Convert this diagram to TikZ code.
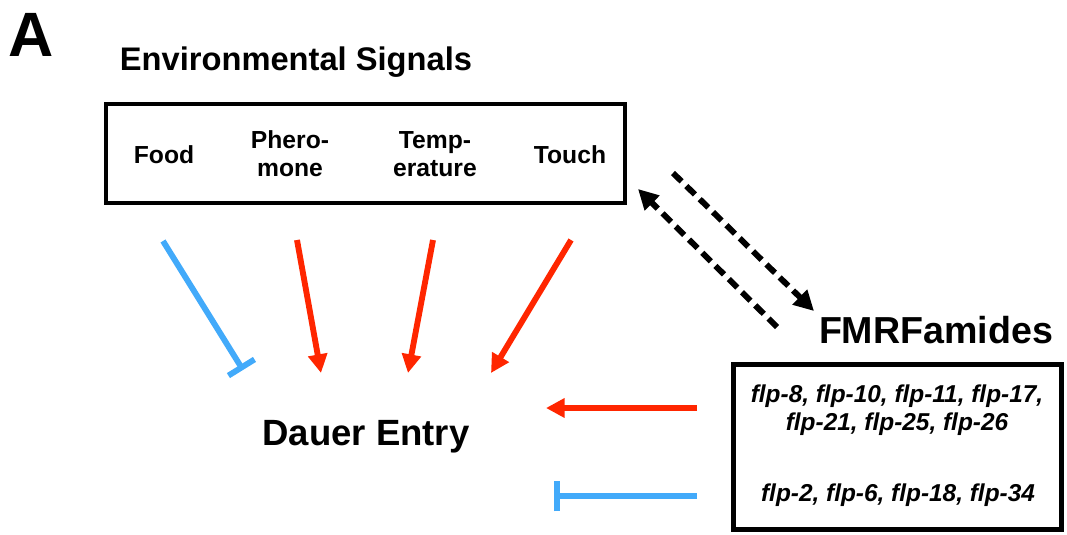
\documentclass[tikz,border=0pt]{standalone}
\usepackage{fontspec}
\setmainfont{Liberation Sans}
\usetikzlibrary{arrows.meta}
\definecolor{actred}{RGB}{255,38,0}
\definecolor{inhblue}{RGB}{66,170,250}
\begin{document}
\begin{tikzpicture}[x=0.75pt,y=-0.75pt,
  txt/.style={inner sep=0pt, font=\bfseries\fontsize{18.5}{21}\selectfont, align=center},
  flp/.style={inner sep=0pt, font=\bfseries\itshape\fontsize{18.3}{21}\selectfont, align=center},
  frame/.style={draw, line width=3.4pt, inner sep=0pt},
  act/.style={draw=actred, line width=4.4pt, -{Triangle[length=14pt,width=14pt]}},
  inh/.style={draw=inhblue, line width=4.4pt, -{Bar[width=23pt]}},
  dash2/.style={line width=4.4pt, dash pattern=on 9pt off 5pt, -{Triangle[length=15pt,width=15pt]}}
]
\useasboundingbox (0,0) rectangle (1067,535);
% panel letter and titles
\node[anchor=base west, inner sep=0pt, font=\bfseries\fontsize{47}{47}\selectfont] (A) at (8,57) {A};
\node[inner sep=0pt, font=\bfseries\fontsize{24.5}{28}\selectfont] (env) at (296,62) {Environmental Signals};
% environmental box (519 x 99 px)
\node[frame, minimum width=389.25pt, minimum height=74.25pt] (envbox) at (365.5,153.5) {};
\node[txt] (food) at (164,155) {Food};
\node[txt] (phero) at (290,154) {Phero-\\mone};
\node[txt] (temp) at (435,154) {Temp-\\erature};
\node[txt] (touch) at (570,155) {Touch};
% Dauer entry
\node[inner sep=0pt, font=\bfseries\fontsize{27.4}{30}\selectfont] (dauer) at (366,437) {Dauer Entry};
% FMRFamides
\node[inner sep=0pt, font=\bfseries\fontsize{28.2}{30}\selectfont] (fmrf) at (936,330) {FMRFamides};
% FMRF box (328 x 165 px)
\node[frame, minimum width=246pt, minimum height=123.75pt] (fbox) at (897.5,447) {};
\node[flp] (flpact) at (897,410) {flp-8, flp-10, flp-11, flp-17,\\flp-21, flp-25, flp-26};
\node[flp] (flpinh) at (898,495) {flp-2, flp-6, flp-18, flp-34};
% connector end points
\coordinate (foodS) at (163,241);
\coordinate (foodE) at (243,370);
\coordinate (pheS) at (297,240);
\coordinate (pheE) at (321,373);
\coordinate (tmpS) at (433,240);
\coordinate (tmpE) at (408,373);
\coordinate (touS) at (571,240);
\coordinate (touE) at (491,373);
\coordinate (actS) at (697,408);
\coordinate (actE) at (546,408);
\coordinate (inhS) at (697,496);
\coordinate (inhE) at (554,496);
\coordinate (upS) at (777,327);
\coordinate (upE) at (638,189);
\coordinate (dnS) at (673,173);
\coordinate (dnE) at (814,311);
% connectors
\draw[inh] (foodS) -- (foodE);
\draw[act] (pheS) -- (pheE);
\draw[act] (tmpS) -- (tmpE);
\draw[act] (touS) -- (touE);
\draw[act] (actS) -- (actE);
\draw[inh] (inhS) -- (inhE);
\draw[dash2] (upS) -- (upE);
\draw[dash2] (dnS) -- (dnE);
\end{tikzpicture}
\end{document}
